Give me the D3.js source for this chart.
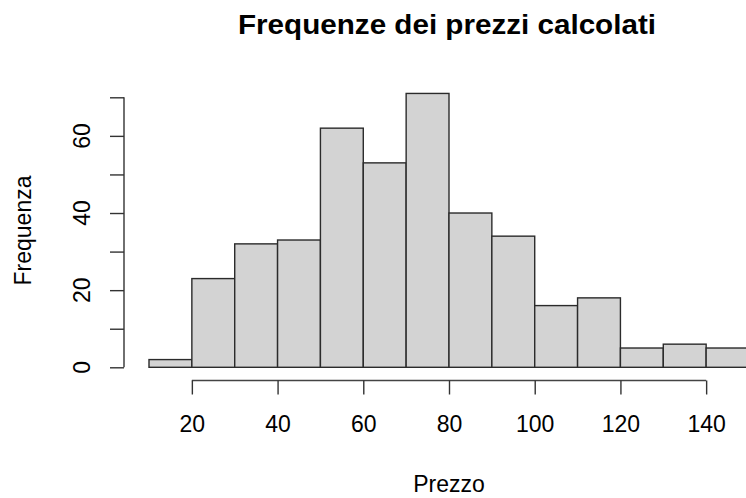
<!DOCTYPE html>
<html>
<head>
  <title>Frequenze dei prezzi calcolati</title>
  <script src="https://d3js.org/d3.v7.min.js"></script>
  <style>
    body { margin: 0; background: #fff; }
    text { font-family: "Liberation Sans", Arial, sans-serif; fill: #000; }
  </style>
</head>
<body>
  <svg width="746" height="498" id="mainsvg"></svg>
  <script>
    // histogram bins (breaks every 10) and counts
    const breaks = [10, 20, 30, 40, 50, 60, 70, 80, 90, 100, 110, 120, 130, 140, 150];
    const counts = [2, 23, 32, 33, 62, 53, 71, 40, 34, 16, 18, 5, 6, 5];
    const xTicks = [20, 40, 60, 80, 100, 120, 140];
    const yTicks = [0, 10, 20, 30, 40, 50, 60, 70];
    const yLabels = [0, 20, 40, 60];

    const svg = d3.select('#mainsvg');

    const x = d3.scaleLinear().domain([10, 150]).range([149, 749]);
    const y = d3.scaleLinear().domain([0, 70]).range([367.3, 97.3]);

    const bins = counts.map((c, i) => ({ x0: breaks[i], x1: breaks[i + 1], n: c }));

    svg.append('g').selectAll('rect').data(bins)
      .enter().append('rect')
      .attr('x', d => x(d.x0))
      .attr('y', d => y(d.n))
      .attr('width', d => x(d.x1) - x(d.x0))
      .attr('height', d => y(0) - y(d.n))
      .attr('fill', '#d3d3d3')
      .attr('stroke', '#2b2b2b')
      .attr('stroke-width', 1.4);

    // x axis (R style, offset below the bars)
    const xa = svg.append('g').attr('transform', 'translate(0,380.5)')
      .call(d3.axisBottom(x).tickValues(xTicks).tickSize(14).tickPadding(20).tickSizeOuter(0));
    xa.select('.domain').attr('d', `M${x(20)},0H${x(140)}`).attr('stroke', '#444').attr('stroke-width', 1.4);
    xa.selectAll('.tick line').attr('stroke', '#333').attr('stroke-width', 1.4);
    xa.selectAll('.tick text').attr('font-size', 23).attr('font-family', 'Liberation Sans, Arial, sans-serif')
      .attr('fill', '#000').attr('dy', '0.71em').attr('y', 35);

    // y axis
    const ya = svg.append('g').attr('transform', 'translate(124,0)')
      .call(d3.axisLeft(y).tickValues(yTicks).tickSize(14).tickSizeOuter(0).tickFormat(''));
    ya.select('.domain').attr('d', `M0,${y(0)}V${y(70)}`).attr('stroke', '#333').attr('stroke-width', 1.4);
    ya.selectAll('.tick line').attr('stroke', '#333').attr('stroke-width', 1.4);

    svg.append('g').selectAll('text').data(yLabels)
      .enter().append('text')
      .attr('transform', d => `translate(89.5,${y(d)}) rotate(-90)`)
      .attr('text-anchor', 'middle')
      .attr('font-size', 23)
      .text(d => d);

    svg.append('text')
      .attr('x', 447).attr('y', 33.5)
      .attr('text-anchor', 'middle')
      .attr('font-size', 27.5).attr('font-weight', 'bold')
      .attr('textLength', 418).attr('lengthAdjust', 'spacingAndGlyphs')
      .text('Frequenze dei prezzi calcolati');

    svg.append('text')
      .attr('x', 449).attr('y', 492)
      .attr('text-anchor', 'middle')
      .attr('font-size', 23)
      .text('Prezzo');

    svg.append('text')
      .attr('transform', 'translate(30.5,230.5) rotate(-90)')
      .attr('text-anchor', 'middle')
      .attr('font-size', 23)
      .text('Frequenza');
  </script>
</body>
</html>
